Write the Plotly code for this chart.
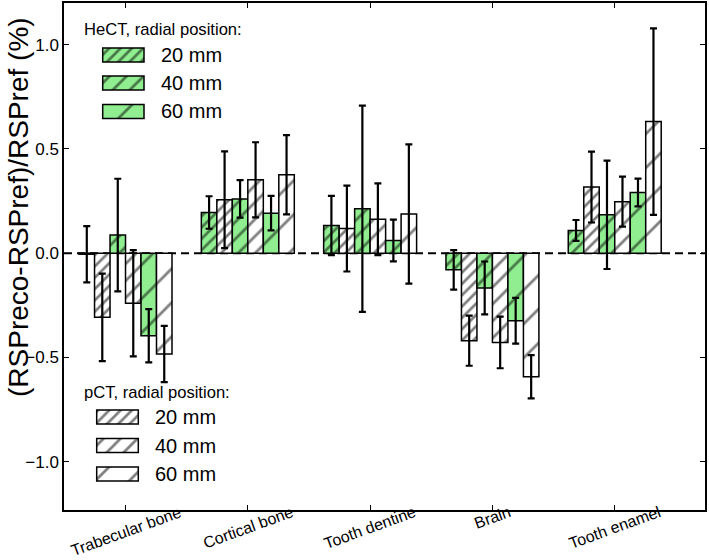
import plotly.graph_objects as go

# ---------------- data ----------------
categories = ["Trabecular bone", "Cortical bone", "Tooth dentine", "Brain", "Tooth enamel"]

hect20 = [-0.005, 0.195, 0.133, -0.080, 0.109]
hect20_err = [0.135, 0.078, 0.142, 0.095, 0.050]
pct20 = [-0.308, 0.256, 0.118, -0.420, 0.317]
pct20_err = [0.210, 0.232, 0.206, 0.120, 0.170]
hect40 = [0.087, 0.260, 0.213, -0.167, 0.184]
hect40_err = [0.270, 0.090, 0.495, 0.127, 0.260]
pct40 = [-0.240, 0.352, 0.163, -0.428, 0.247]
pct40_err = [0.255, 0.180, 0.172, 0.124, 0.120]
hect60 = [-0.396, 0.192, 0.061, -0.324, 0.291]
hect60_err = [0.128, 0.083, 0.100, 0.110, 0.067]
pct60 = [-0.484, 0.376, 0.188, -0.593, 0.631]
pct60_err = [0.135, 0.190, 0.334, 0.104, 0.447]

positions = ["20 mm", "40 mm", "60 mm"]
y_ticks = [-1.0, -0.5, 0.0, 0.5, 1.0]

# ---------------- style ----------------
GREEN = "#90EE90"
WHITE = "#FFFFFF"
FONT = "Liberation Sans, Arial, Helvetica, sans-serif"
HATCH = {"20 mm": (8, 0.34), "40 mm": (12, 0.23), "60 mm": (24, 0.115)}

W, H = 709, 560
ML, MR, MT, MB = 64, 4, 3, 50
PW, PH = W - ML - MR, H - MT - MB


def px_x(px):
    return (px - ML) / PW


def px_y(py):
    return (H - MB - py) / PH


series = [
    ("HeCT", "20 mm", hect20, hect20_err, GREEN),
    ("pCT", "20 mm", pct20, pct20_err, WHITE),
    ("HeCT", "40 mm", hect40, hect40_err, GREEN),
    ("pCT", "40 mm", pct40, pct40_err, WHITE),
    ("HeCT", "60 mm", hect60, hect60_err, GREEN),
    ("pCT", "60 mm", pct60, pct60_err, WHITE),
]

xs = list(range(len(categories)))

fig = go.Figure()
for modality, pos, vals, errs, col in series:
    size, sol = HATCH[pos]
    fig.add_trace(go.Bar(
        x=xs, y=vals, name=f"{modality} {pos}",
        marker=dict(color=col, line=dict(color="black", width=1.5),
                    pattern=dict(shape="/", size=size, solidity=sol,
                                 fgcolor="black", bgcolor=col)),
        error_y=dict(type="data", array=errs, visible=True,
                     color="black", thickness=2.2, width=3.5),
        showlegend=False,
    ))

# ---------------- custom legends (swatches on an overlay axis) ----------------
LEGENDS = [
    dict(title="HeCT, radial position:", color=GREEN, title_x=82, title_y=29,
         sw_x0=102.7, sw_x1=144.0, text_x=159, rows=[55.0, 83.0, 111.5]),
    dict(title="pCT, radial position:", color=WHITE, title_x=82, title_y=392,
         sw_x0=96.7, sw_x1=138.3, text_x=153, rows=[417.0, 445.5, 474.0]),
]
SW_HALF = 7.0

annotations = []
for leg in LEGENDS:
    annotations.append(dict(
        text=leg["title"], xref="paper", yref="paper",
        x=px_x(leg["title_x"]), y=px_y(leg["title_y"]),
        xanchor="left", yanchor="middle", showarrow=False,
        font=dict(family=FONT, size=16.6, color="black")))
    for pos, yc in zip(positions, leg["rows"]):
        size, sol = HATCH[pos]
        x0, x1 = px_x(leg["sw_x0"]), px_x(leg["sw_x1"])
        y0, y1 = px_y(yc + SW_HALF), px_y(yc - SW_HALF)
        fig.add_trace(go.Bar(
            x=[x0], y=[y1 - y0], base=[y0], width=[x1 - x0], offset=0,
            xaxis="x2", yaxis="y2", showlegend=False, hoverinfo="skip",
            marker=dict(color=leg["color"], line=dict(color="black", width=1.5),
                        pattern=dict(shape="/", size=size, solidity=sol,
                                     fgcolor="black", bgcolor=leg["color"])),
        ))
        annotations.append(dict(
            text=pos, xref="paper", yref="paper",
            x=px_x(leg["text_x"]), y=px_y(yc),
            xanchor="left", yanchor="middle", showarrow=False,
            font=dict(family=FONT, size=20, color="black")))

# category labels, rotated, centred under each tick
for xi, cat in zip(xs, categories):
    annotations.append(dict(
        text=cat, xref="x", yref="paper", x=xi, y=px_y(501),
        xanchor="center", yanchor="top", textangle=-20, showarrow=False,
        font=dict(family=FONT, size=16, color="black")))

# y-axis title
annotations.append(dict(
    text="(RSPreco-RSPref)/RSPref (%)", xref="paper", yref="paper",
    x=px_x(19), y=px_y(207), xanchor="center", yanchor="middle", textangle=-90,
    showarrow=False, font=dict(family=FONT, size=28, color="black")))

fig.update_layout(
    width=W, height=H,
    margin=dict(l=ML, r=MR, t=MT, b=MB, pad=0),
    paper_bgcolor="white", plot_bgcolor="white",
    barmode="group", bargap=0.24, bargroupgap=0,
    font=dict(family=FONT, size=16.5, color="black"),
    xaxis=dict(range=[-0.503, 4.738], tickmode="array", tickvals=xs,
               showticklabels=False, ticks="inside", ticklen=5, tickwidth=1,
               tickcolor="black", showline=True, linecolor="black", linewidth=1.5,
               mirror="ticks", showgrid=False, zeroline=False, automargin=False),
    yaxis=dict(range=[-1.232, 1.2], tickmode="array", tickvals=y_ticks,
               ticktext=[f"{v:.1f}".replace("-", "\u2212") for v in y_ticks],
               ticks="inside", ticklen=5, tickwidth=1, tickcolor="black",
               showline=True, linecolor="black", linewidth=1.5, mirror="ticks",
               showgrid=False, zeroline=False, automargin=False,
               tickfont=dict(family=FONT, size=17)),
    xaxis2=dict(overlaying="x", anchor="y2", range=[0, 1], visible=False),
    yaxis2=dict(overlaying="y", anchor="x2", range=[0, 1], visible=False),
    annotations=annotations,
    shapes=[dict(type="line", xref="paper", yref="y", x0=0, x1=1, y0=0, y1=0,
                 line=dict(color="black", width=2, dash="8px,5px"), layer="below")],
)

fig.write_html("out.html", config={"displayModeBar": False},
               post_script="document.body.style.margin='0';")
